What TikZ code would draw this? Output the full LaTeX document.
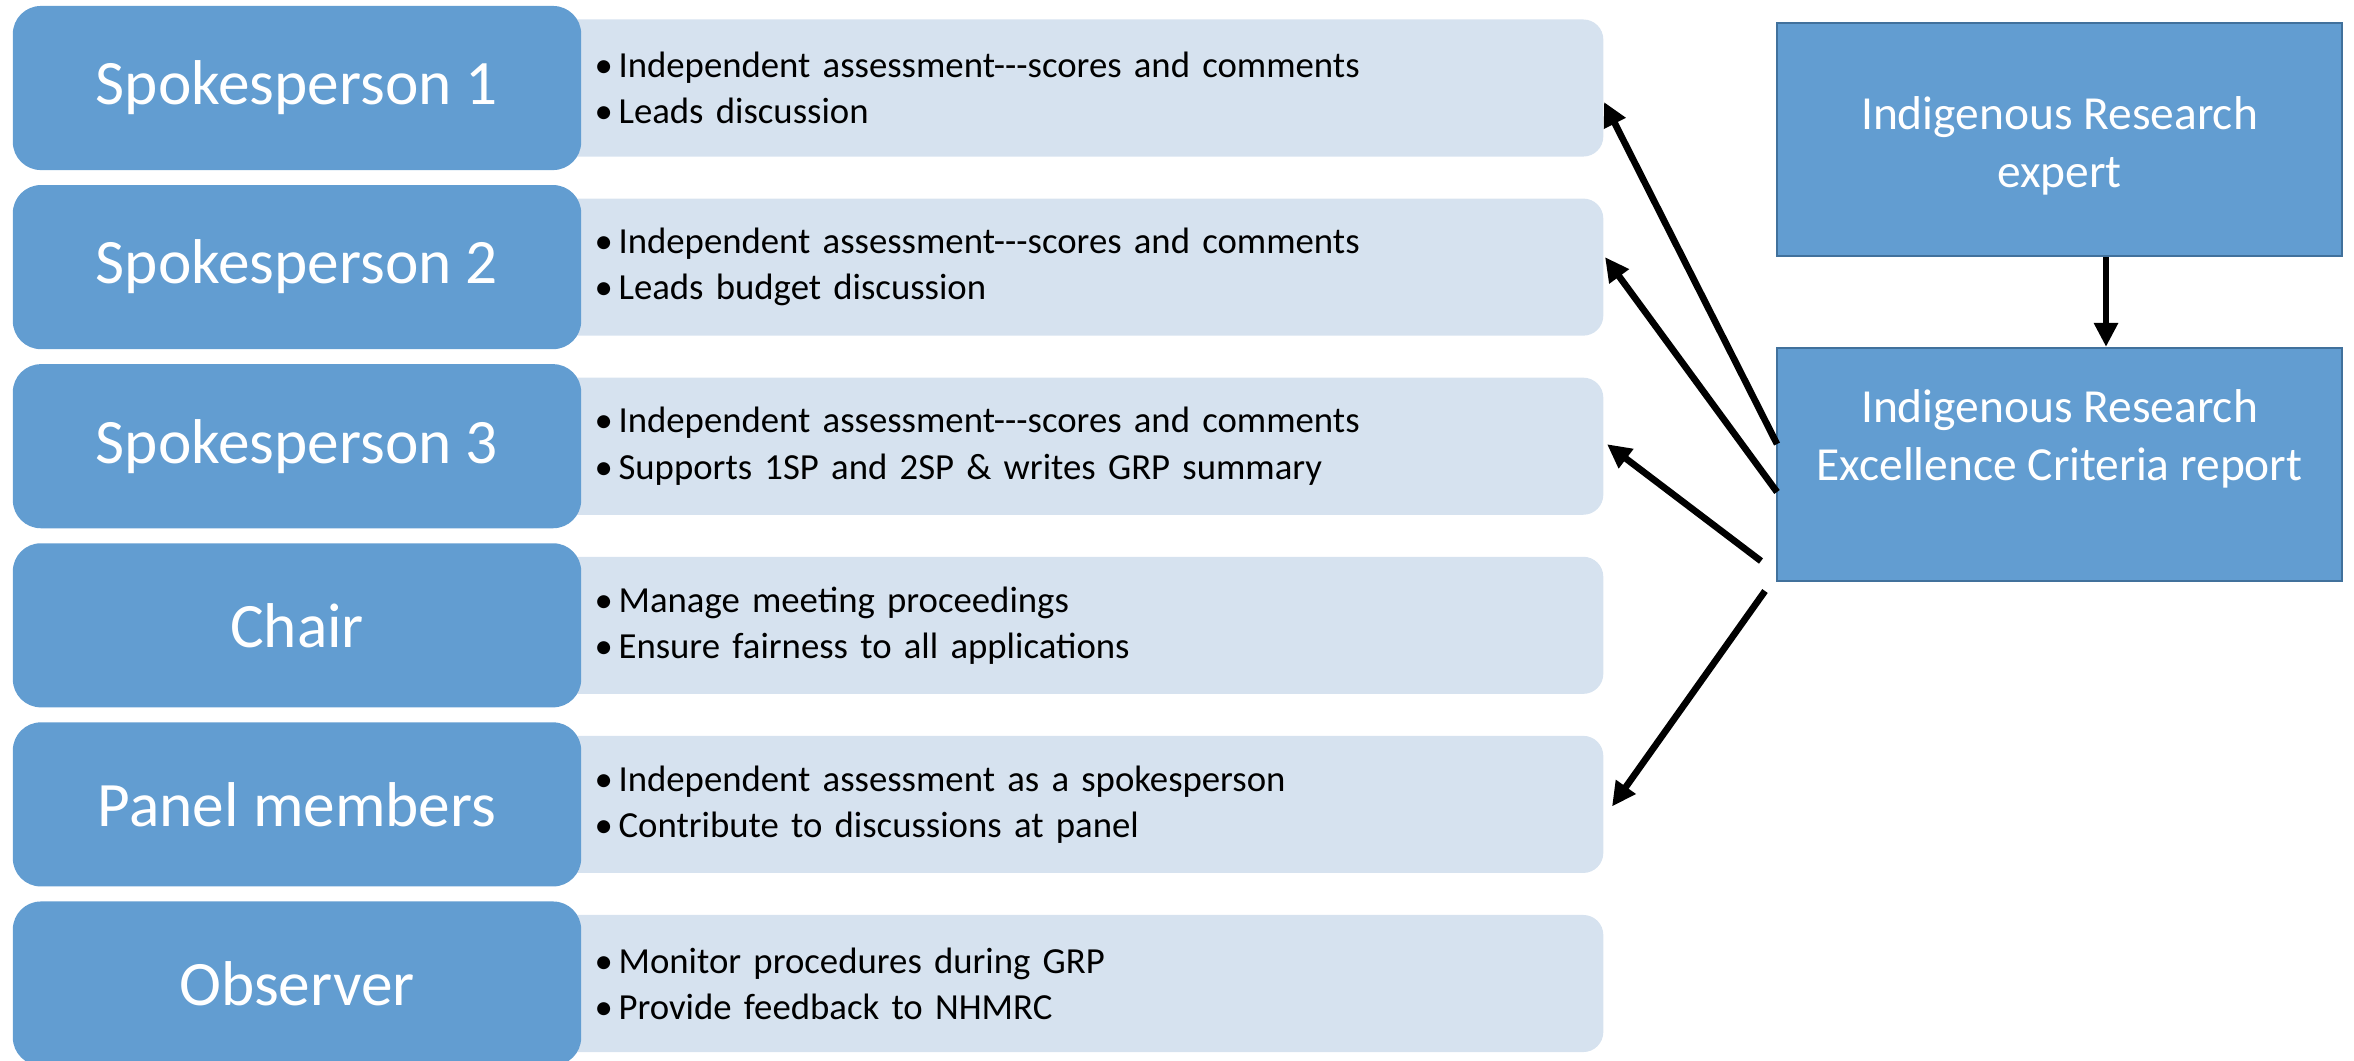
\documentclass[tikz,border=0pt]{standalone}
\usepackage{fontspec}
\setmainfont{Carlito}[Ligatures=TeXOff]
\usetikzlibrary{arrows.meta,calc}
\definecolor{darkb}{RGB}{98,157,209}
\definecolor{lightb}{RGB}{214,226,239}
\definecolor{edgeb}{RGB}{65,113,156}
\newcommand\bul{\makebox[0.65em][l]{•}}
\begin{document}
\begin{tikzpicture}[x=0.01cm,y=-0.01cm,
 rolebox/.style={fill=darkb, rounded corners=0.28cm, minimum width=5.68cm, minimum height=1.64cm, text=white, font=\fontsize{18}{22}\selectfont, inner sep=0pt},
 descbox/.style={fill=lightb, rounded corners=0.2cm, minimum width=10.63cm, minimum height=1.37cm, inner xsep=0.55cm, inner ysep=0pt, text width=9.53cm, align=left, font=\fontsize{10.45}{13.1}\selectfont},
 sidebox/.style={fill=darkb, draw=edgeb, line width=0.6pt, minimum width=5.65cm, minimum height=2.33cm, text=white, align=center, font=\fontsize{13.5}{16.6}\selectfont, inner sep=0pt},
 arr/.style={line width=1.9pt, -{Triangle[length=0.24cm,width=0.23cm]}}
]
\useasboundingbox (0,0) rectangle (2354,1060);
\clip (0,0) rectangle (2354,1060);
% light description boxes
\node[descbox] (l1) at (1071.5,88) {\bul Independent assessment---scores and comments\\\bul Leads discussion};
\node[descbox] (l2) at (1071.5,267.1) {\bul Independent assessment---scores and comments\\\bul Leads budget discussion};
\node[descbox] (l3) at (1071.5,446.2) {\bul Independent assessment---scores and comments\\\bul Supports 1SP and 2SP \& writes GRP summary};
\node[descbox] (l4) at (1071.5,625.3) {\bul Manage meeting proceedings\\\bul Ensure fairness to all applications};
\node[descbox] (l5) at (1071.5,804.4) {\bul Independent assessment as a spokesperson\\\bul Contribute to discussions at panel};
\node[descbox] (l6) at (1071.5,983.5) {\bul Monitor procedures during GRP\\\bul Provide feedback to NHMRC};
% role boxes
\node[rolebox] (r1) at (297,88) {Spokesperson 1};
\node[rolebox] (r2) at (297,267.1) {Spokesperson 2};
\node[rolebox] (r3) at (297,446.2) {Spokesperson 3};
\node[rolebox] (r4) at (297,625.3) {Chair};
\node[rolebox] (r5) at (297,804.4) {Panel members};
\node[rolebox] (r6) at (297,983.5) {Observer};
% right boxes
\node[sidebox] (expert) at (2059.5,139.5) {\rule{0pt}{13pt}Indigenous Research\\expert};
\node[sidebox] (report) at (2059.5,464.5) {Indigenous Research\\Excellence Criteria report\\[0pt]\mbox{}};
% arrows
\coordinate (t1) at (1777,444);
\coordinate (t2) at (1777,492);
\coordinate (t3) at (1761,561);
\coordinate (t4) at (1765,591);
\draw[arr] ($(expert.south)+(46.5,0)$) -- ($(report.north)+(46.5,0)$);
\draw[arr] (t1) -- ($(l1.east)+(0,14)$);
\draw[arr] (t2) -- ($(l2.east)+(1,-10)$);
\draw[arr] (t3) -- ($(l3.east)+(3,-2)$);
\draw[arr] (t4) -- ($(l5.east)+(8,2)$);
\end{tikzpicture}
\end{document}
